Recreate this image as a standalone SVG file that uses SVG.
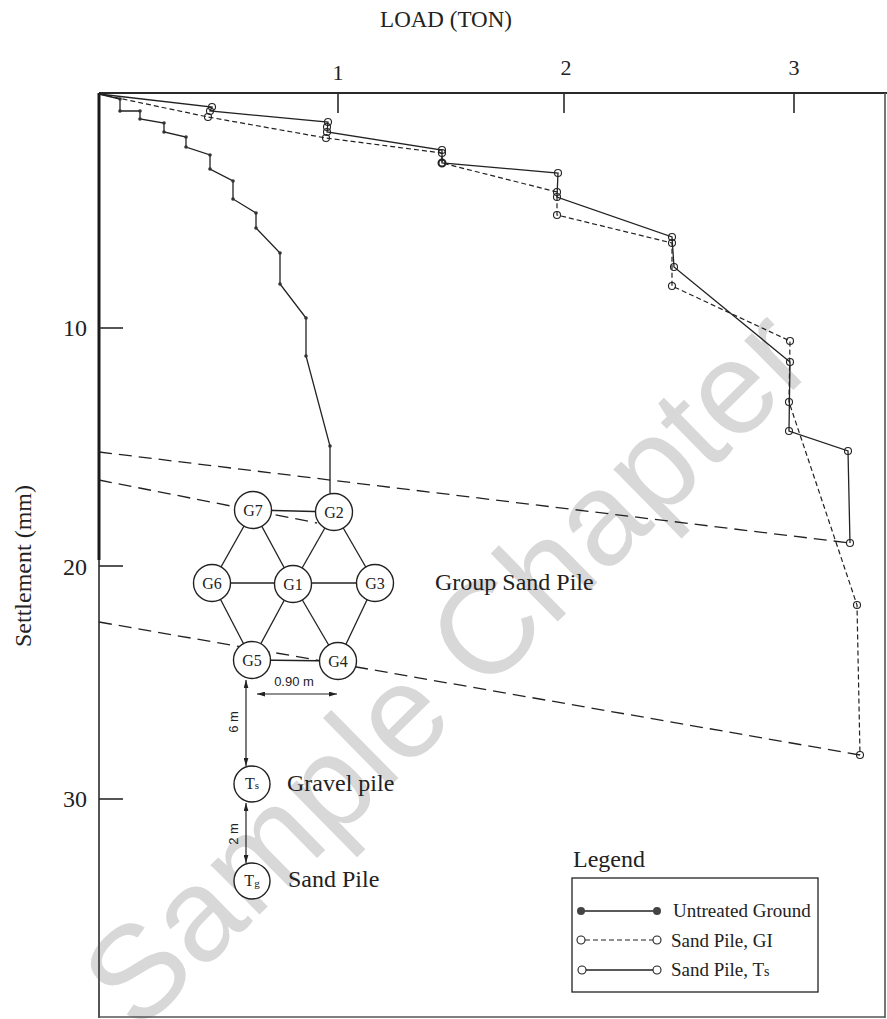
<svg xmlns="http://www.w3.org/2000/svg" width="887" height="1019" viewBox="0 0 887 1019">
<style>
.ax{stroke:#2a2a2a;stroke-width:2;fill:none}
.tick{stroke:#2a2a2a;stroke-width:1.6}
.serif{font-family:"Liberation Serif","Times New Roman",serif;fill:#222}
.sans{font-family:"Liberation Sans",Arial,sans-serif;fill:#222}
.solid{stroke:#222;stroke-width:1.3;fill:none}
.gi{stroke:#222;stroke-width:1.2;fill:none;stroke-dasharray:5 3}
.long{stroke:#222;stroke-width:1.3;fill:none;stroke-dasharray:13 7}
.pt{stroke:#222;stroke-width:1.1;fill:none}
.dot{fill:#333}
.edge{stroke:#222;stroke-width:1.3}
.node circle{fill:#fff;stroke:#222;stroke-width:1.4}
.node text{font-family:"Liberation Serif","Times New Roman",serif;font-size:16px;fill:#222;text-anchor:middle}
.arr{stroke:#222;stroke-width:1.2;marker-start:url(#ah);marker-end:url(#ah)}
</style>
<defs>
<marker id="ah" viewBox="0 0 10 6" refX="10" refY="3" markerWidth="8" markerHeight="5" markerUnits="userSpaceOnUse" orient="auto-start-reverse">
<path d="M0,0 L10,3 L0,6 z" fill="#222"/>
</marker>
</defs>
<rect width="887" height="1019" fill="#fff"/>
<!-- watermark -->
<text class="sans" x="0" y="0" transform="translate(478,700) rotate(-44.5)" text-anchor="middle" font-size="132" style="fill:#d8d8d8">Sample Chapter</text>

<!-- axes / frame -->
<line x1="99" y1="93" x2="887" y2="93" class="ax"/>
<line x1="99" y1="93" x2="99" y2="1018" stroke="#555" stroke-width="2"/>
<line x1="99" y1="93" x2="99" y2="560" stroke="#1a1a1a" stroke-width="3"/>
<line x1="885" y1="93" x2="885" y2="1018" stroke="#555" stroke-width="1.6"/>
<line x1="99" y1="1017" x2="885" y2="1017" stroke="#555" stroke-width="1.6"/>
<line x1="338" y1="93" x2="338" y2="113" class="tick"/>
<line x1="564" y1="93" x2="564" y2="113" class="tick"/>
<line x1="794" y1="93" x2="794" y2="113" class="tick"/>
<line x1="99" y1="328" x2="123" y2="328" class="tick"/>
<line x1="99" y1="566" x2="123" y2="566" class="tick"/>
<line x1="99" y1="799" x2="123" y2="799" class="tick"/>

<text class="serif" x="446" y="27" font-size="23" text-anchor="middle">LOAD (TON)</text>
<text class="serif" x="338" y="80" font-size="22" text-anchor="middle">1</text>
<text class="serif" x="566" y="75" font-size="22" text-anchor="middle">2</text>
<text class="serif" x="794" y="75" font-size="22" text-anchor="middle">3</text>
<text class="serif" x="87" y="336" font-size="24" text-anchor="end">10</text>
<text class="serif" x="87" y="575" font-size="24" text-anchor="end">20</text>
<text class="serif" x="87" y="807" font-size="24" text-anchor="end">30</text>
<text class="serif" x="0" y="0" font-size="24" text-anchor="middle" transform="translate(31,566) rotate(-90)">Settlement (mm)</text>

<!-- curves -->
<g id="untreated">
<polyline class="solid" points="99,94 120,99 120,111 140,111 140,119 164,123 164,132 186,137 186,147 210,155 210,169 233,181 233,199 256,213 256,228 280,253 280,284 306,318 306,356 330,446 330,493"/>
<g class="dot">
<circle cx="120" cy="99" r="1.8"/><circle cx="120" cy="111" r="1.8"/><circle cx="140" cy="111" r="1.8"/><circle cx="140" cy="119" r="1.8"/>
<circle cx="164" cy="123" r="1.8"/><circle cx="164" cy="132" r="1.8"/><circle cx="186" cy="137" r="1.8"/><circle cx="186" cy="147" r="1.8"/>
<circle cx="210" cy="155" r="1.8"/><circle cx="210" cy="169" r="1.8"/><circle cx="233" cy="181" r="1.8"/><circle cx="233" cy="199" r="1.8"/>
<circle cx="256" cy="213" r="1.8"/><circle cx="256" cy="228" r="1.8"/><circle cx="280" cy="253" r="1.8"/><circle cx="280" cy="284" r="1.8"/>
<circle cx="306" cy="318" r="1.8"/><circle cx="306" cy="356" r="1.8"/><circle cx="330" cy="446" r="1.8"/>
</g>
</g>
<g id="sandpile-ts">
<polyline class="solid" points="99,94 212,107 210,111 328,122 327,132 442,150 442,163 558,173 557,197 672,237 674,267 790,362 789,431 848,451 850,543"/>
</g>
<g id="sandpile-gi">
<polyline class="gi" points="99,94 208,117 326,138 442,153 442,163 557,192 557,215 672,243 672,286 790,341 789,402 857,605 860,755"/>
</g>
<g class="pt">
<circle cx="212" cy="107" r="3.5"/><circle cx="210" cy="111" r="3.5"/><circle cx="208" cy="117" r="3.5"/>
<circle cx="328" cy="122" r="3.5"/><circle cx="327" cy="127" r="3.5"/><circle cx="327" cy="132" r="3.5"/><circle cx="326" cy="138" r="3.5"/>
<circle cx="442" cy="150" r="3.5"/><circle cx="442" cy="153" r="3.5"/><circle cx="442" cy="163" r="3.5" stroke-width="2"/>
<circle cx="558" cy="173" r="3.5"/><circle cx="557" cy="192" r="3.5"/><circle cx="557" cy="197" r="3.5"/><circle cx="557" cy="215" r="3.5"/>
<circle cx="672" cy="237" r="3.5"/><circle cx="672" cy="243" r="3.5"/><circle cx="674" cy="267" r="3.5"/><circle cx="672" cy="286" r="3.5"/>
<circle cx="790" cy="341" r="3.5"/><circle cx="790" cy="362" r="3.5"/><circle cx="789" cy="402" r="3.5"/><circle cx="789" cy="431" r="3.5"/>
<circle cx="848" cy="451" r="3.5"/><circle cx="850" cy="543" r="3.5"/><circle cx="857" cy="605" r="3.5"/><circle cx="860" cy="755" r="3.5"/>
</g>
<g id="extrapolations">
<line class="long" x1="99" y1="452" x2="850" y2="543"/>
<line class="long" x1="99" y1="480" x2="317" y2="523"/>
<line class="long" x1="99" y1="622" x2="860" y2="755"/>
</g>

<!-- connectors -->
<g id="connectors">
<line class="edge" x1="253" y1="510" x2="334" y2="512" stroke-width="2"/>
<line class="edge" x1="253" y1="510" x2="212" y2="583"/>
<line class="edge" x1="253" y1="510" x2="293" y2="584"/>
<line class="edge" x1="334" y1="512" x2="293" y2="584"/>
<line class="edge" x1="334" y1="512" x2="375" y2="583"/>
<line class="edge" x1="212" y1="583" x2="375" y2="583"/>
<line class="edge" x1="212" y1="583" x2="252" y2="660"/>
<line class="edge" x1="293" y1="584" x2="252" y2="660"/>
<line class="edge" x1="293" y1="584" x2="338" y2="661"/>
<line class="edge" x1="375" y1="583" x2="338" y2="661"/>
<line class="edge" x1="252" y1="660" x2="338" y2="661" stroke-width="2.2"/>
<line class="arr" x1="257" y1="694" x2="337" y2="694"/>
<line class="arr" x1="246" y1="680" x2="246" y2="766"/>
<line class="arr" x1="246" y1="803" x2="246" y2="863"/>
</g>

<!-- nodes -->
<g id="G7" class="node"><circle cx="253" cy="510" r="18.5"/><text x="253" y="516">G7</text></g>
<g id="G2" class="node"><circle cx="334" cy="512" r="18.5"/><text x="334" y="518">G2</text></g>
<g id="G6" class="node"><circle cx="212" cy="583" r="18.5"/><text x="212" y="589">G6</text></g>
<g id="G1" class="node"><circle cx="293" cy="584" r="18.5"/><text x="293" y="590">G1</text></g>
<g id="G3" class="node"><circle cx="375" cy="583" r="18.5"/><text x="375" y="589">G3</text></g>
<g id="G5" class="node"><circle cx="252" cy="660" r="18.5"/><text x="252" y="666">G5</text></g>
<g id="G4" class="node"><circle cx="338" cy="661" r="18.5"/><text x="338" y="667">G4</text></g>
<g id="Ts" class="node"><circle cx="252" cy="784" r="18"/><text x="252" y="789" font-size="15">T<tspan font-size="11">s</tspan></text></g>
<g id="Tg" class="node"><circle cx="252" cy="881" r="18"/><text x="252" y="886" font-size="15">T<tspan font-size="11" dy="1">g</tspan></text></g>

<text class="sans" x="294" y="686" font-size="13" text-anchor="middle">0.90 m</text>
<text class="sans" x="0" y="0" font-size="13" text-anchor="middle" transform="translate(238,722) rotate(-90)">6 m</text>
<text class="sans" x="0" y="0" font-size="13" text-anchor="middle" transform="translate(238,834) rotate(-90)">2 m</text>
<text class="serif" x="435" y="590" font-size="24">Group Sand Pile</text>
<text class="serif" x="287" y="791" font-size="24">Gravel pile</text>
<text class="serif" x="288" y="887" font-size="24">Sand Pile</text>

<!-- legend -->
<g id="legend">
<text class="serif" x="573" y="867" font-size="24">Legend</text>
<rect x="572" y="878" width="246" height="114" fill="none" stroke="#222" stroke-width="1.3"/>
<line x1="581" y1="911" x2="657" y2="911" class="solid"/>
<circle cx="581" cy="911" r="4" fill="#444"/><circle cx="657" cy="911" r="4" fill="#444"/>
<text class="serif" x="673" y="917" font-size="19">Untreated Ground</text>
<line x1="585" y1="940" x2="653" y2="940" class="gi"/>
<circle cx="581" cy="940" r="4" class="pt"/><circle cx="657" cy="940" r="4" class="pt"/>
<text class="serif" x="671" y="947" font-size="19">Sand Pile, GI</text>
<line x1="586" y1="970" x2="653" y2="970" class="solid"/>
<circle cx="582" cy="970" r="4" class="pt"/><circle cx="657" cy="970" r="4" class="pt"/>
<text class="serif" x="671" y="976" font-size="19">Sand Pile, T<tspan font-size="14">s</tspan></text>
</g>
</svg>
